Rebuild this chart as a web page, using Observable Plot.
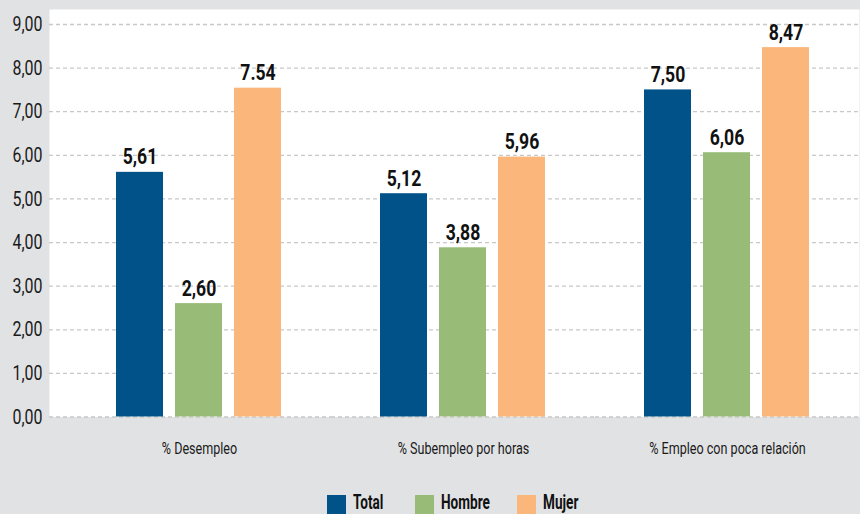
<!DOCTYPE html>
<html>
<head>
<meta charset="utf-8">
<script src="https://cdn.jsdelivr.net/npm/d3@7"></script>
<script src="https://cdn.jsdelivr.net/npm/@observablehq/plot@0.6"></script>
<style>
  html, body { margin: 0; padding: 0; background: #e1e2e4; }
  body { width: 860px; height: 514px; overflow: hidden; position: relative; font-family: Roboto, "Liberation Sans", sans-serif; }
  #chart svg { display: block; }
  #legend { position: absolute; left: 0; top: 493px; width: 860px; height: 21px; font-weight: bold; font-size: 20px; color: #111; }
  .item { position: absolute; top: 0; display: flex; align-items: flex-start; line-height: 19px; white-space: nowrap; }
  .item:nth-child(1) { left: 327px; }
  .item:nth-child(2) { left: 415px; }
  .item:nth-child(3) { left: 517px; }
  .sw { width: 19px; height: 19px; margin-top: 2px; margin-right: 7px; }
  .item span { display: inline-block; transform: scaleX(0.68); transform-origin: left center; }
</style>
</head>
<body>
<div id="chart"></div>
<div id="legend"></div>
<script>
const categories = ["% Desempleo", "% Subempleo por horas", "% Empleo con poca relación"];
const series = ["Total", "Hombre", "Mujer"];
const totalValues = [5.61, 5.12, 7.50];
const hombreValues = [2.60, 3.88, 6.06];
const mujerValues = [7.54, 5.96, 8.47];
const totalLabels = ["5,61", "5,12", "7,50"];
const hombreLabels = ["2,60", "3,88", "6,06"];
const mujerLabels = ["7.54", "5,96", "8,47"];
const yTicks = [0, 1, 2, 3, 4, 5, 6, 7, 8, 9];
const colors = ["#005288", "#98bb78", "#fbb77b"];

const valuesBySeries = [totalValues, hombreValues, mujerValues];
const labelsBySeries = [totalLabels, hombreLabels, mujerLabels];
const rows = [];
categories.forEach((c, i) => {
  series.forEach((s, j) => {
    rows.push({category: c, series: s, value: valuesBySeries[j][i], label: labelsBySeries[j][i]});
  });
});
const gridRows = [];
categories.forEach(c => yTicks.forEach(t => gridRows.push({category: c, tick: t})));
const gridFirst = gridRows.filter(d => d.category === categories[0]);
const gridRest = gridRows.filter(d => d.category !== categories[0]);

const font = 'Roboto, "Liberation Sans", sans-serif';
const gridStyle = {stroke: "#c8c8c8", strokeWidth: 1.3, strokeDasharray: "4,3"};

const chart = Plot.plot({
  width: 860,
  height: 480,
  marginLeft: 48,
  marginRight: 0,
  marginTop: 9,
  marginBottom: 63.5,
  style: {background: "transparent", fontFamily: font, color: "#1a1a1a", overflow: "visible"},
  fx: {domain: categories, range: [66, 860], padding: 0, label: null},
  x: {domain: series, paddingInner: 0.2, paddingOuter: 0.804, axis: null},
  y: {domain: [0, 9], range: [416.5, 24], label: null},
  color: {domain: series, range: colors},
  marks: [
    Plot.frame({fill: "white", stroke: null, facet: "super", insetLeft: -18}),
    Plot.ruleY(gridFirst, {fx: "category", y: "tick", insetLeft: -18, ...gridStyle}),
    Plot.ruleY(gridRest, {fx: "category", y: "tick", ...gridStyle}),
    Plot.axisY({ticks: yTicks, tickFormat: d => d.toFixed(2).replace(".", ","), tickSize: 0, tickPadding: 25, fontSize: 21, label: null, anchor: "left", fill: "#1a1a1a"}),
    Plot.axisFx({tickSize: 0, tickPadding: 25, fontSize: 17, label: null, anchor: "bottom", fill: "#1a1a1a"}),
    Plot.barY(rows, {fx: "category", x: "series", y: "value", fill: "series"}),
    Plot.text(rows, {fx: "category", x: "series", y: "value", text: "label", dy: -8, lineAnchor: "bottom", fontSize: 22, fontWeight: "bold", fill: "#111"})
  ]
});
document.getElementById("chart").appendChild(chart);

// condense glyphs horizontally (the reference uses a condensed typeface)
function condense(selector, k) {
  d3.select(chart).selectAll(selector).each(function () {
    const t = this.getAttribute("transform");
    if (t) {
      this.setAttribute("transform", t + ` scale(${k},1)`);
    } else {
      const x = +(this.getAttribute("x") || 0);
      this.setAttribute("transform", `translate(${x},0) scale(${k},1) translate(${-x},0)`);
    }
  });
}
condense('g[aria-label="y-axis tick label"] text', 0.76);
condense('g[aria-label="fx-axis tick label"] text', 0.74);
condense('g[aria-label="text"] text', 0.8);

const legend = document.getElementById("legend");
series.forEach((s, j) => {
  const item = document.createElement("div");
  item.className = "item";
  const sw = document.createElement("div");
  sw.className = "sw";
  sw.style.background = colors[j];
  const t = document.createElement("span");
  t.textContent = s;
  item.appendChild(sw);
  item.appendChild(t);
  legend.appendChild(item);
});
</script>
</body>
</html>
